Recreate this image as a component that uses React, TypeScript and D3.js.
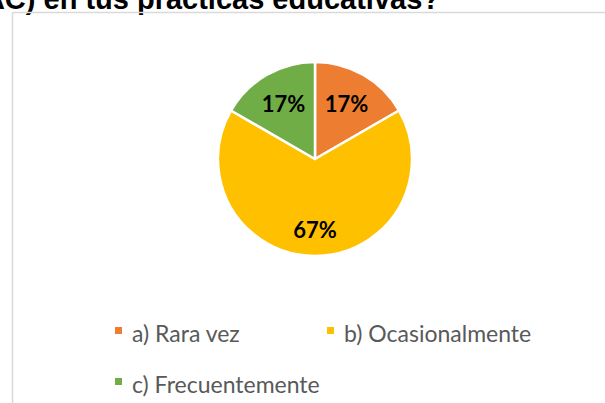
import React from "react";
import * as d3 from "d3";

const categories = ["a) Rara vez", "b) Ocasionalmente", "c) Frecuentemente"];
const values = [1, 4, 1];
const colors = ["#ED7D31", "#FFC000", "#70AD47"];
const titleText = "¿Con qué frecuencia integras las TIC (TAC) en tus prácticas educativas?";

const W = 605;
const H = 403;
const cx = 315;
const cy = 159;
const R = 97;
const labelFactors = [0.65, 0.74, 0.65];

export default function App() {
  const total = d3.sum(values);
  const pie = d3.pie<number>().sort(null).value((d) => d)(values);
  const arc = d3.arc<d3.PieArcDatum<number>>().innerRadius(0).outerRadius(R);
  const fmt = d3.format(".0%");

  const legendItems = [
    { x: 115, y: 342 },
    { x: 327, y: 342 },
    { x: 115, y: 393 },
  ];

  return (
    <svg
      width={W}
      height={H}
      style={{ position: "absolute", left: 0, top: 0, background: "#fff" }}
    >
      <rect x={0} y={0} width={W} height={H} fill="#fff" />
      <text
        x={440}
        y={8.5}
        textAnchor="end"
        fontFamily="'Liberation Sans', Arial, sans-serif"
        fontWeight="bold"
        fontSize={29}
        fill="#000"
      >
        {titleText}
      </text>
      <path d={`M12.5,${H} V12.5 H${W}`} fill="none" stroke="#d9d9d9" strokeWidth={1.5} />
      <g transform={`translate(${cx},${cy})`}>
        {pie.map((p, i) => (
          <path key={i} d={arc(p) || ""} fill={colors[i]} stroke="#fff" strokeWidth={2.5} strokeLinejoin="round" />
        ))}
        {pie.map((p, i) => {
          const mid = (p.startAngle + p.endAngle) / 2;
          const r = R * labelFactors[i];
          const x = Math.sin(mid) * r;
          const y = -Math.cos(mid) * r;
          return (
            <text
              key={"l" + i}
              x={x}
              y={y}
              dy="0.35em"
              textAnchor="middle"
              fontFamily="Lato, 'Open Sans', sans-serif"
              fontWeight="bold"
              fontSize={22}
              fill="#000"
            >
              {fmt(values[i] / total)}
            </text>
          );
        })}
      </g>
      {categories.map((c, i) => (
        <g key={"g" + i} transform={`translate(${legendItems[i].x},${legendItems[i].y})`}>
          <rect x={0} y={-15} width={7} height={7} fill={colors[i]} />
          <text x={17} y={0} fontFamily="Lato, 'Open Sans', sans-serif" fontSize={23} fill="#595959">
            {c}
          </text>
        </g>
      ))}
    </svg>
  );
}
